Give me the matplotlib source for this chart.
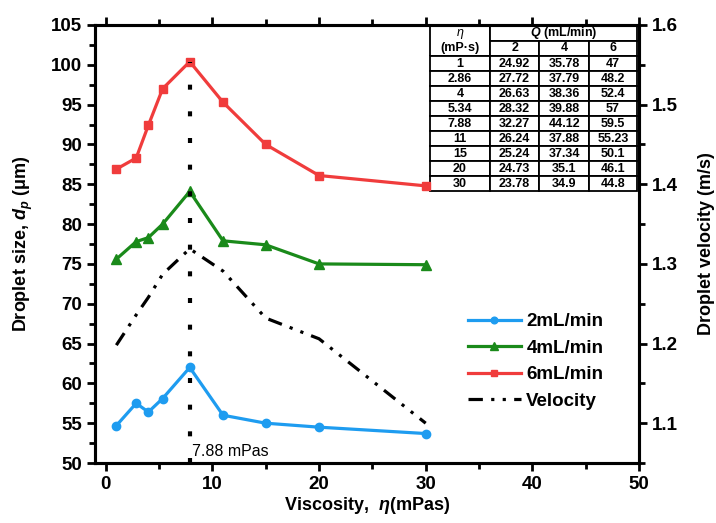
import matplotlib
matplotlib.use("Agg")
import matplotlib.pyplot as plt
from matplotlib.ticker import MultipleLocator

plt.rcParams['font.family'] = ['Liberation Sans', 'DejaVu Sans']
plt.rcParams['font.weight'] = 'bold'
plt.rcParams['mathtext.fontset'] = 'custom'
plt.rcParams['mathtext.it'] = 'Liberation Sans:italic:bold'
plt.rcParams['mathtext.rm'] = 'Liberation Sans:bold'

# data
viscosity = [1, 2.86, 4, 5.34, 7.88, 11, 15, 20, 30]
size_2 = [54.7, 57.5, 56.4, 58.1, 62.0, 56.0, 55.0, 54.5, 53.7]
size_4 = [75.6, 77.8, 78.3, 80.0, 84.1, 77.9, 77.4, 75.0, 74.9]
size_6 = [86.9, 88.3, 92.4, 97.0, 100.4, 95.3, 90.0, 86.1, 84.8]
velocity = [1.198, 1.236, 1.258, 1.287, 1.319, 1.291, 1.232, 1.206, 1.10]
peak_eta = 7.88

# table
tab_eta = ['1', '2.86', '4', '5.34', '7.88', '11', '15', '20', '30']
tab_q2 = ['24.92', '27.72', '26.63', '28.32', '32.27', '26.24', '25.24', '24.73', '23.78']
tab_q4 = ['35.78', '37.79', '38.36', '39.88', '44.12', '37.88', '37.34', '35.1', '34.9']
tab_q6 = ['47', '48.2', '52.4', '57', '59.5', '55.23', '50.1', '46.1', '44.8']
flow_rates = ['2', '4', '6']

c_blue = '#1e9cf0'
c_green = '#1a8a1a'
c_red = '#f03c3c'

fig = plt.figure(figsize=(7.16, 5.23), dpi=100)
ax = fig.add_axes([0.1327, 0.1147, 0.7598, 0.8375])
ax2 = ax.twinx()

ax.plot(viscosity, size_2, '-o', color=c_blue, lw=2.3, ms=6, label='2mL/min')
ax.plot(viscosity, size_4, '-^', color=c_green, lw=2.3, ms=6.5, label='4mL/min')
ax.plot(viscosity, size_6, '-s', color=c_red, lw=2.3, ms=5.5, label='6mL/min')
ax.vlines(peak_eta, 50, max(size_6), colors='black', lw=3, linestyles=(0, (1.2, 5.2)))
ax.text(peak_eta + 0.25, 51.4, '7.88 mPas', fontsize=11.5, fontweight='normal', va='center', ha='left')

vel_line, = ax2.plot(viscosity, velocity, color='black', lw=2.3,
                     linestyle=(0, (4.5, 2.6, 1, 2.6, 1, 2.6)), label='Velocity')

ax.set_xlim(-1, 50)
ax.set_ylim(50, 105)
ax2.set_ylim(1.05, 1.6)

ax.xaxis.set_major_locator(MultipleLocator(10))
ax.xaxis.set_minor_locator(MultipleLocator(5))
ax.yaxis.set_major_locator(MultipleLocator(5))
ax.yaxis.set_minor_locator(MultipleLocator(2.5))
ax2.yaxis.set_major_locator(MultipleLocator(0.1))
ax2.yaxis.set_minor_locator(MultipleLocator(0.05))

for a in (ax, ax2):
    for s in a.spines.values():
        s.set_linewidth(2.2)
ax.tick_params(which='both', direction='out', width=2, labelsize=13.5, top=True, right=False)
ax.tick_params(which='major', length=6)
ax.tick_params(which='minor', length=4)
ax2.tick_params(which='both', direction='out', width=2, labelsize=13.5)
ax2.tick_params(which='major', length=6)
ax2.tick_params(which='minor', length=4)
for lab in ax.get_xticklabels() + ax.get_yticklabels() + ax2.get_yticklabels():
    lab.set_fontweight('bold')

ax.set_xlabel(r'Viscosity,  $\eta$(mPas)', fontsize=13, fontweight='bold', labelpad=1)
ax.set_ylabel(r'Droplet size, $d_p$ (μm)', fontsize=13, fontweight='bold', labelpad=11)
ax2.set_ylabel('Droplet velocity (m/s)', fontsize=13, fontweight='bold', labelpad=14)

handles, labels = ax.get_legend_handles_labels()
handles.append(vel_line)
labels.append('Velocity')
ax.legend(handles, labels, loc='upper left', bbox_to_anchor=(0.686, 0.342), frameon=False,
          fontsize=13.5, handlelength=2.8, handletextpad=0.3, labelspacing=0.5,
          borderpad=0, borderaxespad=0, markerscale=0.8)

# data table
col_w = [60, 50, 50, 48]
tb_x, tb_y, tb_w, tb_h = 0.616, 0.62, 0.38, 0.378
cells = [['η', '', '', ''], ['(mP·s)'] + flow_rates]
for row in zip(tab_eta, tab_q2, tab_q4, tab_q6):
    cells.append(list(row))
tbl = ax.table(cellText=cells, cellLoc='center', colWidths=col_w,
               bbox=[tb_x, tb_y, tb_w, tb_h])
tbl.auto_set_font_size(False)
tbl.set_fontsize(9)
for (r, c), cell in tbl.get_celld().items():
    cell.set_linewidth(1.3)
    cell.get_text().set_fontweight('bold')
    cell.set_facecolor('white')
    cell.set_zorder(5)
tbl[0, 0].visible_edges = 'LTR'
tbl[1, 0].visible_edges = 'LBR'
tbl[0, 1].visible_edges = 'LTB'
tbl[0, 2].visible_edges = 'TB'
tbl[0, 3].visible_edges = 'TBR'
tbl[0, 0].get_text().set_fontstyle('italic')
tbl[0, 0].get_text().set_fontweight('normal')

# merged header over the flow-rate columns
q_x = tb_x + tb_w * (col_w[0] + sum(col_w[1:]) / 2) / sum(col_w)
q_y = tb_y + tb_h * (1 - 0.5 / len(cells))
ax.text(q_x, q_y, r'$Q$ (mL/min)', transform=ax.transAxes, ha='center', va='center',
        fontsize=9, fontweight='bold', zorder=6)

fig.savefig('out.png', dpi=100)
